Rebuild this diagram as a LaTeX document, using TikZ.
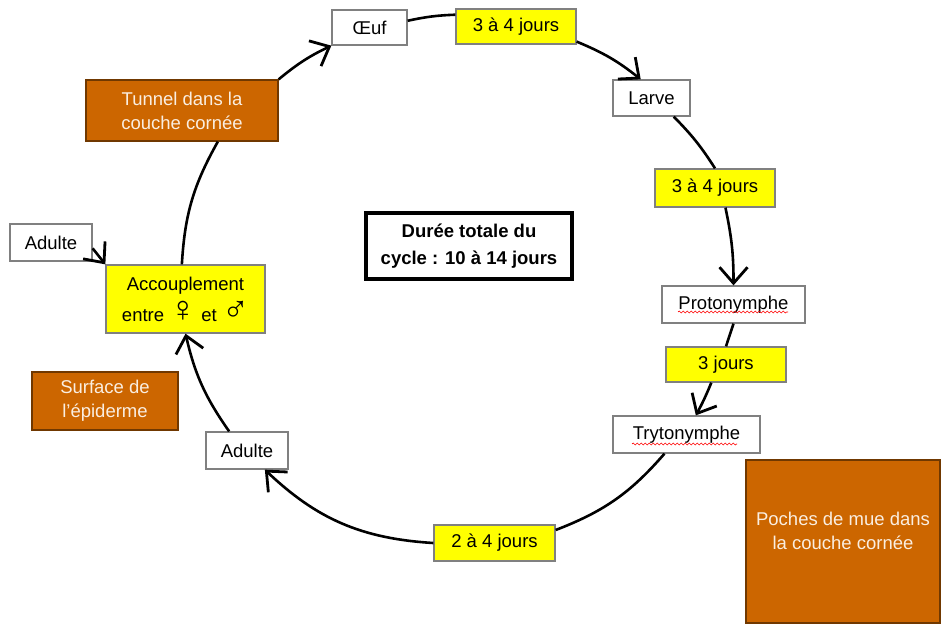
\documentclass[tikz,border=0pt]{standalone}
\usepackage{fontspec}
\setmainfont{Liberation Sans}
\usetikzlibrary{arrows.meta,decorations.pathmorphing}
\definecolor{orng}{RGB}{204,102,0}
\definecolor{yel}{RGB}{255,255,0}
\definecolor{bord}{RGB}{128,128,128}
\definecolor{otext}{RGB}{250,238,225}
\newcommand{\symb}{\fontsize{36}{30}\selectfont}
\begin{document}
\begin{tikzpicture}[x=1pt,y=-1pt,
 every node/.style={font=\fontsize{18.5}{24}\selectfont, inner sep=0pt, align=center},
 wbox/.style={draw=bord, line width=1.3pt, fill=white},
 ybox/.style={draw=bord, line width=1.3pt, fill=yel},
 obox/.style={draw=orng!55!black, line width=1.3pt, fill=orng, text=otext},
 con/.style={line width=2.6pt},
 arr/.style={con, -{Straight Barb[length=16pt,width=28pt,line width=2.8pt]}},
 wavy/.style={draw=red, line width=0.6pt, decorate, decoration={snake, segment length=4pt, amplitude=1pt}}
]
\useasboundingbox (0,0) rectangle (941,624);

\node[wbox, minimum width=75, minimum height=35] (oeuf) at (369.5,27.5) {Œuf};
\node[ybox, minimum width=120, minimum height=35] (d1) at (516,26.5) {3 à 4 jours};
\node[wbox, minimum width=77, minimum height=36] (larve) at (651.5,98) {Larve};
\node[ybox, minimum width=120, minimum height=38] (d2) at (715,188) {3 à 4 jours};
\node[wbox, minimum width=143, minimum height=37] (proto) at (733.5,304.5) {Protonymphe};
\node[ybox, minimum width=120, minimum height=35] (d3) at (726,364.5) {3 jours};
\node[wbox, minimum width=147, minimum height=37] (tryto) at (686.5,434.5) {Trytonymphe};
\node[obox, minimum width=194, minimum height=163, text depth=22pt] (poches) at (843,541.5) {Poches de mue dans\\la couche cornée};
\node[ybox, minimum width=121, minimum height=36] (d4) at (494.5,543) {2 à 4 jours};
\node[wbox, minimum width=82, minimum height=37] (adulteb) at (247,450.5) {Adulte};
\node[obox, minimum width=146, minimum height=58] (surface) at (105,401) {Surface de\\l'épiderme};
\node[ybox, minimum width=159, minimum height=68, font=\fontsize{18.5}{31}\selectfont] (accoup) at (185.5,299) {Accouplement\\entre {\symb ♀} et {\symb ♂}};
\node[wbox, minimum width=82, minimum height=37] (adultel) at (51,242.5) {Adulte};
\node[obox, minimum width=192, minimum height=61] (tunnel) at (182,110.5) {Tunnel dans la\\couche cornée};
\node[draw=black, line width=4pt, fill=white, minimum width=206, minimum height=66,
      font=\bfseries\fontsize{18.5}{27}\selectfont] (duree) at (469,246) {Durée totale du\\cycle : 10 à 14 jours};

\draw[arr] (tunnel.north east) to[bend left=7] (oeuf.south west);
\draw[con] (oeuf.10) to[bend left=5] (d1.169);
\draw[arr] (d1.-14) to[bend left=8] (larve.120);
\draw[con] (larve.-40) to[bend left=6] (d2.north);
\draw[arr] (d2.-62) to[bend left=6] (proto.north);
\draw[con] (proto.south) -- (d3.north);
\draw[arr] (d3.-129) to[bend left=3] (tryto.64);
\draw[con] (tryto.-139) to[bend left=14] (d4.12);
\draw[arr] (d4.west) to[bend left=20] (adulteb.-47);
\draw[arr] (adulteb.133) to[bend left=11] (accoup.south);
\draw[con] (accoup.96) to[bend left=13] (tunnel.-41);
\draw[arr] (adultel.-8) -- (accoup.north west);

\path[wavy] (678,312) -- (788,312);
\path[wavy] (632,444) -- (737,444);
\end{tikzpicture}
\end{document}
